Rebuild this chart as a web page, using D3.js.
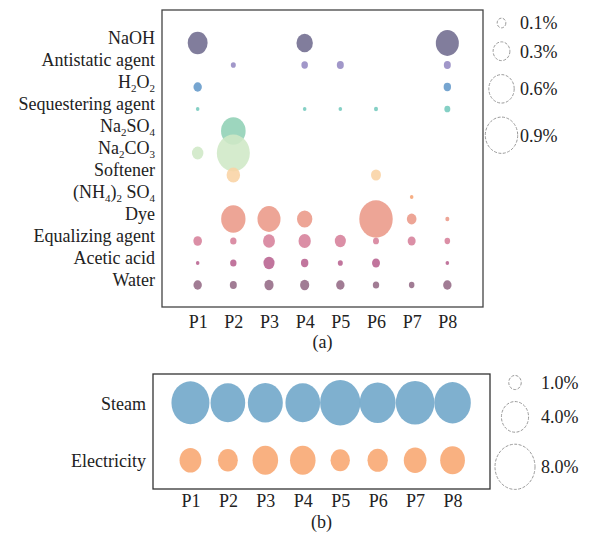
<!DOCTYPE html>
<html>
<head>
<meta charset="utf-8">
<script src="https://cdn.jsdelivr.net/npm/d3@7"></script>
<style>
  body { margin: 0; background: #fff; }
  svg { display: block; font-family: "Liberation Serif", "Times New Roman", serif; }
  text { white-space: pre; }
</style>
</head>
<body>
<svg id="chart" width="592" height="536"></svg>
<script>
// columns (processes)
const processes = ["P1", "P2", "P3", "P4", "P5", "P6", "P7", "P8"];

// (a) chemicals, "_n" marks a subscript
const chemicals = ["NaOH", "Antistatic agent", "H_2O_2", "Sequestering agent", "Na_2SO_4", "Na_2CO_3",
  "Softener", "(NH_4)_2 SO_4", "Dye", "Equalizing agent", "Acetic acid", "Water"];
const chemColors = ["#6f6b8e", "#9489c2", "#6399c9", "#74c9bd", "#8fd0b5", "#cfe8c6",
  "#f9d3a4", "#f5a373", "#eb9888", "#d6809a", "#b8628f", "#946a85"];
// share in %, null = not used
const chemValues = [
  [0.40, null, null, 0.29, null, null, null, 0.51],
  [null, 0.040, null, 0.063, 0.070, null, null, 0.070],
  [0.095, null, null, null, null, null, null, 0.077],
  [0.023, null, null, 0.023, 0.023, 0.028, null, 0.054],
  [null, 0.57, null, null, null, null, null, null],
  [0.16, 0.93, null, null, null, null, null, null],
  [null, 0.21, null, null, null, 0.127, null, null],
  [null, null, null, null, null, null, 0.023, null],
  [null, 0.56, 0.51, 0.26, null, 0.95, 0.12, 0.028],
  [0.099, 0.060, 0.17, 0.18, 0.15, 0.054, 0.087, 0.048],
  [0.023, 0.060, 0.15, 0.077, 0.040, 0.087, null, 0.023],
  [0.095, 0.070, 0.11, 0.11, 0.095, 0.060, 0.048, 0.095]
];
const chemLegend = [0.1, 0.3, 0.6, 0.9];

// (b) energy
const energy = ["Steam", "Electricity"];
const energyColors = ["#74a9cb", "#f9aa76"];
const steam = [7.3, 6.2, 6.3, 6.2, 8.1, 6.6, 7.5, 6.8];
const electricity = [2.7, 2.3, 3.6, 3.6, 2.2, 2.4, 2.9, 3.4];
const energyLegend = [1.0, 4.0, 8.0];

const svg = d3.select("#chart");
const stretch = 1.12; // bubbles are slightly taller than wide in the original

// write "H_2O_2" style labels with subscripts
function subLabel(sel) {
  sel.each(function(d) {
    const t = d3.select(this).text(null);
    let shift = 0;
    d.split(/_(\d)/).forEach(function(p, i) {
      if (!p) return;
      const sub = i % 2 === 1;
      const target = sub ? 4 : 0;
      t.append("tspan")
        .attr("dy", target - shift)
        .attr("font-size", sub ? "11px" : null)
        .text(p);
      shift = target;
    });
  });
}

// ---------- (a) ----------
const fa = {left: 162, right: 483, top: 10, bottom: 307};

var x = d3.scalePoint().domain(processes).range([fa.left, fa.right]).padding(1);
var y = d3.scalePoint().domain(chemicals).range([fa.top + 33, fa.bottom - 22]);
var r = d3.scalePow().exponent(0.6).domain([0, 0.9]).range([0, 16.2]);

svg.append("rect")
  .attr("x", fa.left).attr("y", fa.top)
  .attr("width", fa.right - fa.left).attr("height", fa.bottom - fa.top)
  .attr("fill", "none").attr("stroke", "#444").attr("stroke-width", 1.3);

const cells = [];
chemicals.forEach(function(c, i) {
  processes.forEach(function(p, j) {
    if (chemValues[i][j] != null) cells.push({chem: c, p: p, v: chemValues[i][j], color: chemColors[i]});
  });
});

svg.append("g").selectAll("ellipse")
  .data(cells)
  .enter().append("ellipse")
  .attr("cx", d => x(d.p))
  .attr("cy", d => y(d.chem))
  .attr("rx", d => r(d.v))
  .attr("ry", d => r(d.v) * stretch)
  .attr("fill", d => d.color)
  .attr("fill-opacity", 0.88);

var gxA = svg.append("g")
  .attr("transform", "translate(0," + fa.bottom + ")")
  .call(d3.axisBottom(x).tickSize(0).tickPadding(8));
var gyA = svg.append("g")
  .attr("transform", "translate(" + fa.left + ",0)")
  .call(d3.axisLeft(y).tickSize(0).tickPadding(7));
gyA.selectAll(".tick text").attr("dy", "0.3em").call(subLabel);

svg.append("text")
  .attr("x", (fa.left + fa.right) / 2).attr("y", 348)
  .attr("text-anchor", "middle").text("(a)");

// legend (a)
var legA = svg.append("g");
let ly = 23;
chemLegend.forEach(function(v, i) {
  if (i > 0) ly += r(chemLegend[i - 1]) * stretch + r(v) * stretch + 14;
  legA.append("ellipse")
    .attr("cx", 501.5).attr("cy", ly)
    .attr("rx", r(v)).attr("ry", r(v) * stretch)
    .attr("fill", "none").attr("stroke", "#9a9a9a")
    .attr("stroke-width", 1).attr("stroke-dasharray", "3,1.5");
  legA.append("text")
    .attr("x", 520).attr("y", ly).attr("dy", "0.35em")
    .text(d3.format(".1f")(v) + "%");
});

// ---------- (b) ----------
const fb = {left: 153, right: 490, top: 374, bottom: 489};

var x2 = d3.scalePoint().domain(processes).range([fb.left, fb.right]).padding(1);
var y2 = d3.scalePoint().domain(energy).range([fb.top, fb.bottom]).padding(0.5);
var r2 = d3.scalePow().exponent(0.56).domain([0, 8]).range([0, 20]);

svg.append("rect")
  .attr("x", fb.left).attr("y", fb.top)
  .attr("width", fb.right - fb.left).attr("height", fb.bottom - fb.top)
  .attr("fill", "none").attr("stroke", "#333").attr("stroke-width", 1.3);

const eCells = [];
[steam, electricity].forEach(function(vals, i) {
  vals.forEach(function(v, j) {
    eCells.push({row: energy[i], p: processes[j], v: v, color: energyColors[i]});
  });
});

svg.append("g").selectAll("ellipse")
  .data(eCells)
  .enter().append("ellipse")
  .attr("cx", d => x2(d.p))
  .attr("cy", d => y2(d.row))
  .attr("rx", d => r2(d.v))
  .attr("ry", d => r2(d.v) * 1.13)
  .attr("fill", d => d.color)
  .attr("fill-opacity", 0.92);

var gxB = svg.append("g")
  .attr("transform", "translate(0," + fb.bottom + ")")
  .call(d3.axisBottom(x2).tickSize(0).tickPadding(5));
var gyB = svg.append("g")
  .attr("transform", "translate(" + fb.left + ",0)")
  .call(d3.axisLeft(y2).tickSize(0).tickPadding(7));
gyB.selectAll(".tick text").attr("dy", "0.35em");

svg.append("text")
  .attr("x", (fb.left + fb.right) / 2).attr("y", 528)
  .attr("text-anchor", "middle").text("(b)");

// legend (b)
var legB = svg.append("g");
let ly2 = 382.5;
energyLegend.forEach(function(v, i) {
  if (i > 0) ly2 += (r2(energyLegend[i - 1]) + r2(v)) * 1.13 + 12;
  legB.append("ellipse")
    .attr("cx", 515).attr("cy", ly2)
    .attr("rx", r2(v)).attr("ry", r2(v) * 1.13)
    .attr("fill", "none").attr("stroke", "#9a9a9a")
    .attr("stroke-width", 1).attr("stroke-dasharray", "3,1.5");
  legB.append("text")
    .attr("x", 541).attr("y", ly2).attr("dy", "0.35em")
    .text(d3.format(".1f")(v) + "%");
});

// common styling
svg.selectAll(".domain").remove();
svg.selectAll("text")
  .attr("fill", "#222")
  .style("font-family", "'Liberation Serif', 'Times New Roman', serif")
  .style("font-size", "18px");
svg.selectAll("tspan[font-size]").style("font-size", "11px");
</script>
</body>
</html>
